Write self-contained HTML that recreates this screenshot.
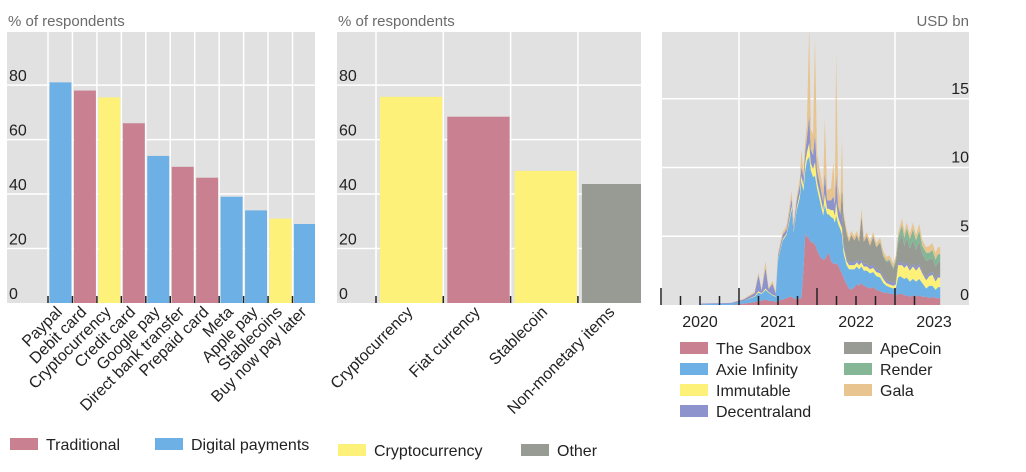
<!DOCTYPE html>
<html><head><meta charset="utf-8"><style>
body{margin:0;background:#fff;}
svg{display:block;font-family:"Liberation Sans",sans-serif;}
</style></head><body>
<svg id="c" width="1026" height="472" viewBox="0 0 1026 472" xmlns="http://www.w3.org/2000/svg"></svg>
<script>
// ---------- Panel 1 data ----------
const p1Categories = ["Paypal","Debit card","Cryptocurrency","Credit card","Google pay","Direct bank transfer","Prepaid card","Meta","Apple pay","Stablecoins","Buy now pay later"];
const p1Values = [81,78,75.5,66,54,50,46,39,34,31,29];
const p1Groups = ["digital","trad","crypto","trad","digital","trad","trad","digital","digital","crypto","digital"];
const p1Ticks = [0,20,40,60,80];
// ---------- Panel 2 data ----------
const p2Categories = ["Cryptocurrency","Fiat currency","Stablecoin","Non-monetary items"];
const p2Values = [75.7,68.4,48.5,43.7];
const p2Groups = ["crypto","trad","crypto","other"];
const p2Ticks = [0,20,40,60,80];
// ---------- Panel 3 data ----------
const p3Dates = [2020.50,2020.90,2021.06,2021.20,2021.25,2021.29,2021.34,2021.38,2021.43,2021.47,2021.50,2021.56,2021.61,2021.65,2021.675,2021.70,2021.74,2021.78,2021.80,2021.825,2021.85,2021.87,2021.90,2021.92,2021.95,2021.975,2022.00,2022.04,2022.08,2022.10,2022.13,2022.15,2022.18,2022.21,2022.23,2022.245,2022.27,2022.30,2022.32,2022.34,2022.38,2022.41,2022.44,2022.48,2022.51,2022.54,2022.57,2022.60,2022.64,2022.68,2022.72,2022.76,2022.81,2022.85,2022.89,2022.93,2022.98,2023.01,2023.04,2023.07,2023.09,2023.12,2023.15,2023.19,2023.23,2023.27,2023.31,2023.35,2023.40,2023.44,2023.48,2023.52,2023.55,2023.58];
const sandbox =     [0,0,0.1,0.2,0.3,0.3,0.4,0.3,0.3,0.2,0.3,0.4,0.5,0.6,0.6,0.5,0.4,0.5,0.5,2.5,5.2,5.0,4.8,4.6,4.5,4.4,4.0,3.5,3.3,3.3,3.6,3.8,3.2,3.0,3.0,3.0,2.9,2.5,2.3,2.0,1.5,1.2,1.1,1.3,1.5,1.4,1.6,1.4,1.3,1.2,1.3,1.1,1.0,0.9,0.9,0.8,0.8,0.7,0.8,0.8,0.8,0.7,0.7,0.6,0.7,0.6,0.7,0.6,0.6,0.5,0.6,0.5,0.5,0.5];
const axie =        [0.05,0.1,0.2,0.4,0.6,0.5,0.7,0.6,0.4,0.4,3.0,4.3,4.6,5.6,6.4,4.8,6.5,7.3,8.5,5.8,4.6,5.5,6.0,5.2,4.8,5.0,4.5,4.0,3.2,4.0,3.0,2.8,3.2,3.3,3.0,3.5,3.0,3.0,2.8,1.8,1.4,1.4,1.5,1.3,1.3,1.2,1.2,1.1,1.2,1.1,1.1,1.0,1.0,0.7,0.5,0.5,0.4,0.5,1.2,1.3,1.2,1.2,1.3,1.1,1.2,1.1,1.2,1.0,0.6,0.9,0.8,0.6,0.8,0.8];
const immutable =   [0,0,0,0.05,0.1,0.05,0.1,0.05,0.05,0.05,0.1,0.1,0.1,0.2,0.2,0.1,0.2,0.3,0.4,0.4,0.6,0.6,1.0,0.5,0.6,1.0,0.5,0.5,0.4,0.8,0.4,0.4,0.5,0.6,0.5,1.0,0.5,0.4,0.5,0.4,0.3,0.3,0.3,0.3,0.3,0.3,0.3,0.3,0.3,0.3,0.3,0.3,0.3,0.3,0.2,0.2,0.2,0.3,0.9,0.8,0.9,0.8,0.9,0.8,0.9,0.8,0.9,0.7,0.6,0.7,0.8,0.6,0.7,0.7];
const decentraland =[0.05,0.05,0.1,0.2,1.2,0.2,1.5,0.2,0.8,0.2,0.2,0.3,0.3,0.4,0.6,0.3,0.5,0.6,0.7,0.6,0.8,1.0,2.0,1.0,1.0,2.0,0.8,0.7,0.6,1.5,0.6,0.6,0.7,1.0,0.8,2.0,0.8,0.7,1.0,0.3,0.2,0.2,0.2,0.2,0.2,0.2,0.2,0.2,0.2,0.2,0.2,0.2,0.2,0.2,0.2,0.2,0.2,0.2,0.2,0.2,0.2,0.2,0.2,0.2,0.2,0.2,0.2,0.2,0.2,0.2,0.2,0.2,0.2,0.2];
const apecoin =     [0,0,0,0,0,0,0,0,0,0,0,0,0,0,0,0,0,0,0,0,0,0,0,0,0,0,0,0,0,0,0,0,0,0,0,0,0,0,2.0,2.0,1.8,1.5,2.0,1.6,1.8,1.5,3.2,1.6,2.0,1.5,2.1,1.6,2.0,1.4,1.3,1.5,1.0,1.4,1.3,1.8,2.0,1.4,1.8,1.4,1.7,1.3,1.6,1.2,1.2,1.0,1.0,0.9,0.9,0.9];
const render =      [0,0,0,0,0,0,0,0,0,0,0,0,0,0,0,0,0,0,0,0,0,0,0,0,0,0,0,0,0,0,0,0,0,0,0,0,0,0,0,0,0,0,0,0,0,0,0,0,0,0,0,0,0.1,0.1,0.1,0.1,0.1,0.2,0.5,0.6,0.7,0.6,0.7,0.7,0.8,0.7,0.8,0.6,0.6,0.5,0.6,0.5,0.6,0.6];
const gala =        [0,0,0.05,0.1,0.2,0.1,0.5,0.1,0.2,0.1,0.2,0.2,0.3,0.5,0.5,0.2,0.3,0.5,1.2,0.4,0.8,1.0,6.5,1.5,1.5,7.0,1.2,1.0,1.0,4.0,0.8,0.8,0.9,2.5,0.8,9.0,1.5,1.0,3.5,0.3,0.3,0.3,0.3,0.3,0.3,0.3,0.5,0.3,0.3,0.3,0.3,0.3,0.3,0.3,0.3,0.3,0.3,0.3,0.3,0.4,0.5,0.4,0.4,0.4,0.5,0.4,0.5,0.4,0.4,0.5,0.5,0.5,0.5,0.5];
const p3Years = [2020,2021,2022,2023];
const p3Ticks = [0,5,10,15];

const NS="http://www.w3.org/2000/svg";
const svg=document.getElementById('c');
const COL={trad:"#c98091",digital:"#6cb0e6",crypto:"#fdf17a",other:"#979b94"};
function mk(tag,attrs,parent){const e=document.createElementNS(NS,tag);for(const k in attrs)e.setAttribute(k,attrs[k]);(parent||svg).appendChild(e);return e;}
function txt(s,attrs,parent){const e=mk('text',attrs,parent);e.textContent=s;return e;}

function barPanel(name,x0,x1,y0,y1,yMax,cats,vals,groups,ticks,bandStart,bandW,barPad,fs,labelX){
  const g=mk('g',{});
  
  
  const ys=v=>y1-(v/yMax)*(y1-y0);
  const bg=mk('rect',{x:x0,y:y0,width:x1-x0,height:y1-y0,fill:"#e1e1e1"},g);
  
  
  ticks.forEach(t=>{
    if(t>0){const l=mk('line',{x1:x0,x2:x1,y1:ys(t),y2:ys(t),stroke:"#fff","stroke-width":1.5},g);
      
      }
    const tl=txt(String(t),{x:labelX,y:ys(t)-4,"font-size":16,fill:"#222"},g);
    
    
  });
  for(let i=0;i<=cats.length-1;i++){
    const xb=bandStart+i*bandW;
    const vl=mk('line',{x1:xb,x2:xb,y1:y0,y2:y1,stroke:"#fff","stroke-width":1.5},g);
    
    
    const tk=mk('line',{x1:xb,x2:xb,y1:y1-7,y2:y1,stroke:"#222","stroke-width":1.5},g);
    
    
  }
  cats.forEach((c,i)=>{
    const bx=bandStart+i*bandW+barPad;
    const w=Math.min(bandW-barPad-1,x1-bx);
    const r=mk('rect',{x:bx,y:ys(vals[i]),width:w,height:y1-ys(vals[i]),fill:COL[groups[i]]},g);
    
    
    const cx=bx+(bandW-barPad)/2+2;
    const t=txt(c,{x:cx,y:y1+10,"font-size":fs,fill:"#222","text-anchor":"end",transform:`rotate(-45 ${cx} ${y1+10})`},g);
    
    
  });
  const yt=txt("% of respondents",{x:x0+1,y:y0-6,"font-size":15,fill:"#6b6b6b"},g);
  
  
}
barPanel('payment-methods-panel',7,315,32,303,99.5,p1Categories,p1Values,p1Groups,p1Ticks,48,24.45,1.5,16,9);
barPanel('currency-panel',337,641,32,303,99.5,p2Categories,p2Values,p2Groups,p2Ticks,376,67.3,4,16,339);

(function(){
  const x0=662,x1=969,y0=32,y1=305;
  const g=mk('g',{});
  
  
  const xs=t=>661+(t-2020)*78;
  const ys=v=>y1-v*13.75;
  const bg=mk('rect',{x:x0,y:y0,width:x1-x0,height:y1-y0,fill:"#e1e1e1"},g);
  
  
  p3Ticks.forEach(t=>{
    if(t>0){const l=mk('line',{x1:x0,x2:x1,y1:ys(t),y2:ys(t),stroke:"#fff","stroke-width":1.5},g);
      
      }
    const tl=txt(String(t),{x:969,y:ys(t)-5,"font-size":16,fill:"#222","text-anchor":"end"},g);
    
    
  });
  [2021,2023].forEach(yr=>{
    const l=mk('line',{x1:xs(yr),x2:xs(yr),y1:y0,y2:y1,stroke:"#fff","stroke-width":1.5},g);
    
    
  });
  const clip=mk('clipPath',{id:'p3clip'},g);
  mk('rect',{x:x0,y:y0,width:x1-x0,height:y1-y0},clip);
  const series=[["The Sandbox",sandbox,"#c98091"],["Axie Infinity",axie,"#6cb0e6"],["Immutable",immutable,"#fdf17a"],["Decentraland",decentraland,"#8c93cd"],["ApeCoin",apecoin,"#979b94"],["Render",render,"#85b797"],["Gala",gala,"#e8c490"]];
  const base=p3Dates.map(()=>0);
  const ag=mk('g',{"clip-path":"url(#p3clip)"},g);
  series.forEach(([nm,vals,col])=>{
    const top=base.map((b,i)=>b+vals[i]);
    let d="M"+p3Dates.map((t,i)=>xs(t).toFixed(1)+","+ys(top[i]).toFixed(1)).join("L");
    for(let i=p3Dates.length-1;i>=0;i--) d+="L"+xs(p3Dates[i]).toFixed(1)+","+ys(base[i]).toFixed(1);
    const p=mk('path',{d:d+"Z",fill:col},ag);
    
    
    top.forEach((v,i)=>base[i]=v);
  });
  for(let q=0;q<=13;q++){
    const t=2020+q*0.25, big=(q%4===0);
    const tk=mk('line',{x1:xs(t),x2:xs(t),y1:y1-(big?17:9),y2:y1,stroke:"#222","stroke-width":1.5},g);
    
    
  }
  p3Years.forEach(yr=>{
    const t=txt(String(yr),{x:xs(yr+0.5),y:y1+22,"font-size":16,fill:"#222","text-anchor":"middle"},g);
    
    
  });
  const u=txt("USD bn",{x:969,y:y0-6,"font-size":15,fill:"#6b6b6b","text-anchor":"end"},g);
  
  
  const lg=mk('g',{},g);
  
  
  series.forEach(([nm,vals,col],i)=>{
    const cx=i<4?680:844, cy=348+(i<4?i:i-4)*21;
    const r=mk('rect',{x:cx,y:cy-6,width:28,height:12,fill:col},lg);
    
    
    const t=txt(nm,{x:cx+36,y:cy+6,"font-size":16,fill:"#222"},lg);
    
    
  });
})();

[["Traditional","trad",10,444],["Digital payments","digital",155,444],["Cryptocurrency","crypto",338,450],["Other","other",521,450]].forEach(([nm,k,x,y])=>{
  const r=mk('rect',{x:x,y:y-6,width:28,height:12,fill:COL[k]});
  
  
  const t=txt(nm,{x:x+36,y:y+6,"font-size":16,fill:"#222"});
  
  
});
</script>
</body></html>
